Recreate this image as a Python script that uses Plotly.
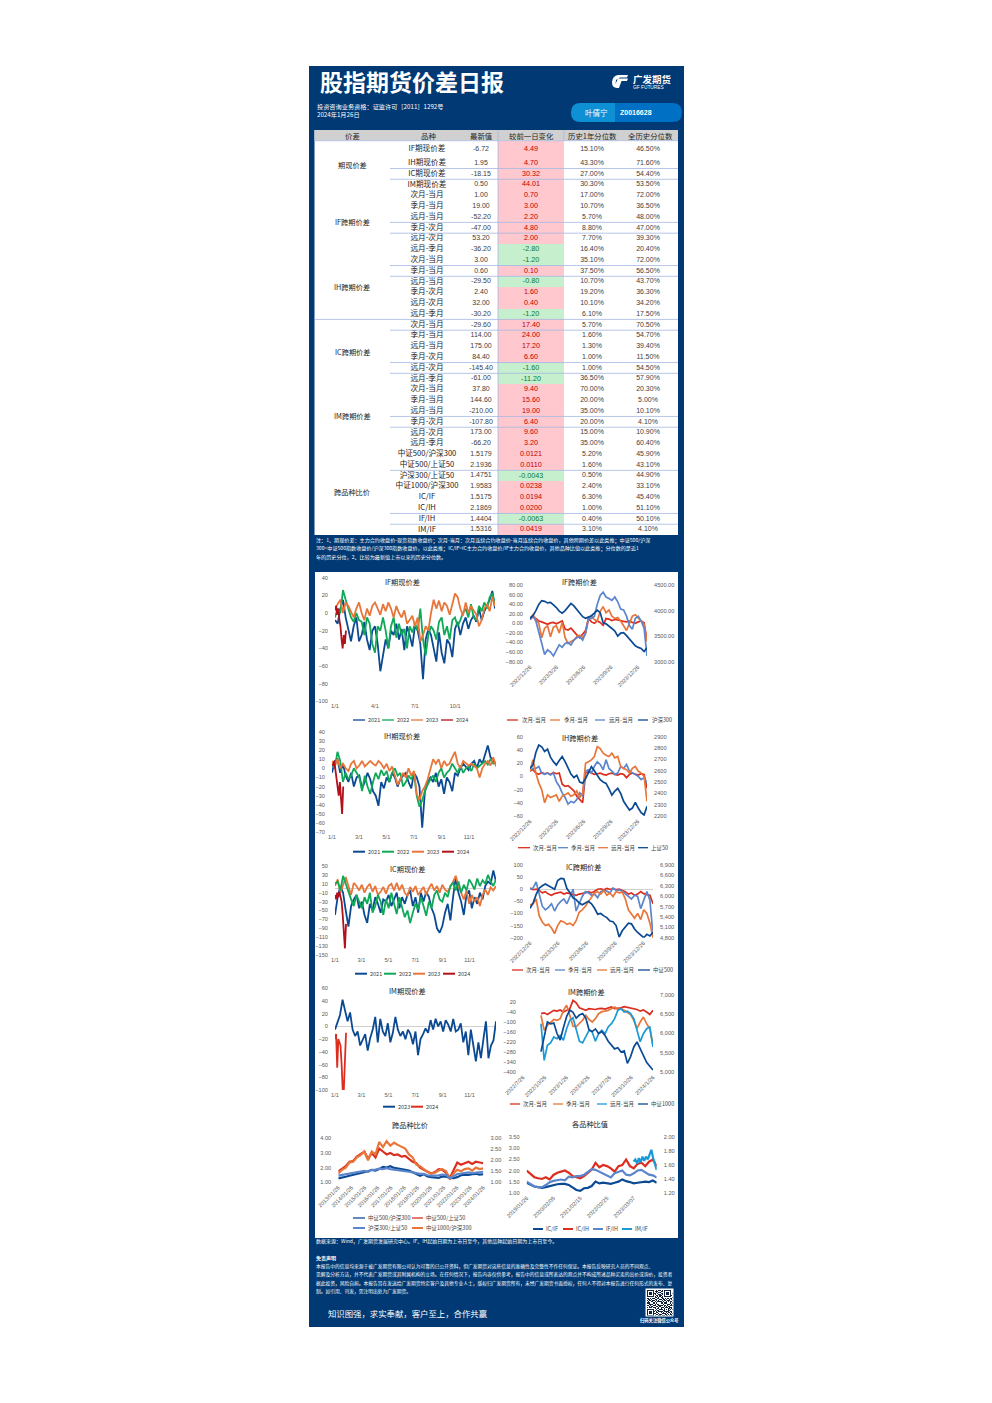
import pandas as pd
import plotly.graph_objects as go

W, H = 992, 1403
CJK = "Noto Sans CJK SC"
LAT = "Liberation Sans"
NAVY = "#003973"
C_DB, C_GR, C_OR, C_DR = "#0b4a93", "#0fa958", "#e8763a", "#b3101a"
C_RD, C_BL, C_CY = "#dc2e1f", "#5b85cc", "#1b9ad8"
LW_YEAR, LW_CAL, LW_RATIO = 1.8, 1.7, 2.2

# ---------- table data ----------
table_groups = ["期现价差", "IF跨期价差", "IH跨期价差", "IC跨期价差", "IM跨期价差", "跨品种比价"]
table_headers = ["价差", "品种", "最新值", "较前一日变化", "历史1年分位数", "全历史分位数"]
table_names = ["IF期现价差", "IH期现价差", "IC期现价差", "IM期现价差",
               "次月-当月", "季月-当月", "远月-当月", "季月-次月", "远月-次月", "远月-季月",
               "次月-当月", "季月-当月", "远月-当月", "季月-次月", "远月-次月", "远月-季月",
               "次月-当月", "季月-当月", "远月-当月", "季月-次月", "远月-次月", "远月-季月",
               "次月-当月", "季月-当月", "远月-当月", "季月-次月", "远月-次月", "远月-季月",
               "中证500/沪深300", "中证500/上证50", "沪深300/上证50", "中证1000/沪深300",
               "IC/IF", "IC/IH", "IF/IH", "IM/IF"]
table_latest = ["-6.72", "1.95", "-18.15", "0.50", "1.00", "19.00", "-52.20", "-47.00", "53.20", "-36.20",
                "3.00", "0.60", "-29.50", "2.40", "32.00", "-30.20", "-29.60", "114.00", "175.00", "84.40",
                "-145.40", "-61.00", "37.80", "144.60", "-210.00", "-107.80", "173.00", "-66.20",
                "1.5179", "2.1936", "1.4751", "1.9583", "1.5175", "2.1869", "1.4404", "1.5316"]
table_change = ["4.49", "4.70", "30.32", "44.01", "0.70", "3.00", "2.20", "4.80", "2.00", "-2.80",
                "-1.20", "0.10", "-0.80", "1.60", "0.40", "-1.20", "17.40", "24.00", "17.20", "6.60",
                "-1.60", "-11.20", "9.40", "15.60", "19.00", "6.40", "9.60", "3.20",
                "0.0121", "0.0110", "-0.0043", "0.0238", "0.0194", "0.0200", "-0.0063", "0.0419"]
table_hist1y = ["15.10%", "43.30%", "27.00%", "30.30%", "17.00%", "10.70%", "5.70%", "8.80%", "7.70%", "16.40%",
                "35.10%", "37.50%", "10.70%", "19.20%", "10.10%", "6.10%", "5.70%", "1.60%", "1.30%", "1.00%",
                "1.00%", "36.50%", "70.00%", "20.00%", "35.00%", "20.00%", "15.00%", "35.00%",
                "5.20%", "1.60%", "0.50%", "2.40%", "6.30%", "1.00%", "0.40%", "3.10%"]
table_histall = ["46.50%", "71.60%", "54.40%", "53.50%", "72.00%", "36.50%", "48.00%", "47.00%", "39.30%", "20.40%",
                 "72.00%", "56.50%", "43.70%", "36.30%", "34.20%", "17.50%", "70.50%", "54.70%", "39.40%", "11.50%",
                 "54.50%", "57.90%", "20.30%", "5.00%", "10.10%", "4.10%", "10.90%", "60.40%",
                 "45.90%", "43.10%", "44.90%", "33.10%", "45.40%", "51.10%", "50.10%", "4.10%"]

# ---------- chart data ----------
if_basis_2021 = [-8,-12,5,15,-5,-20,-32,-15,-5,-32,-25,-10,-30,-42,-20,-15,-35,-66,-48,-30,-40,-20,-25,-12,-30,-18,-42,-15,-25,-38,-14,-20,-35,-75,-30,-18,-25,-40,-55,-22,-45,-57,-30,-35,-50,-18,-10,-25,-12,-5,-18,-8,-3,-10,5,-8,2,8,15,25,5]
if_basis_2022 = [-5,5,0,26,15,5,-5,-10,0,-8,-10,-25,-5,-12,-35,-45,-15,-20,-5,-20,-40,-15,-5,-28,-12,-25,-18,-40,-15,-22,-12,-20,5,-30,-48,-25,-15,-20,-30,-10,-5,-25,-15,-30,-8,-5,-15,-8,0,5,-5,10,-5,-8,8,2,12,5,18,22,10]
if_basis_2023 = [5,10,15,0,12,8,2,-5,5,12,0,-8,5,-3,8,12,5,-2,10,2,12,5,-5,8,0,-5,3,-12,-8,-3,-15,-5,-32,-25,-15,-20,0,15,5,14,2,12,8,-2,10,22,18,5,-3,12,0,8,3,-2,-15,-8,5,10,2,18,8]
if_basis_2024 = [3,8,-2,5,-8,-15,-30,-40,-25,-35,-20]

if_cal_near = [8,14,10,5,3,0,-2,1,2,-1,2,5,-12,-14,-10,-18,-24,-30,-22,-15,10,3,0,5,2,-4,10,9,6,8,7,5,4,3,5,2,0,3,5,1,-35]
if_cal_season = [10,18,8,0,-30,-10,-5,-28,-8,-5,-20,2,-30,-42,-38,-35,-28,-25,-30,-22,10,15,8,5,25,35,22,28,15,10,12,5,-5,-15,0,15,18,12,5,-2,-38]
if_cal_far = [8,15,5,-20,-45,-65,-55,-60,-68,-55,-45,-50,-42,-40,-45,-35,-30,-28,-35,-20,12,10,15,40,58,65,55,52,48,55,45,30,28,15,-5,-12,10,15,5,-10,-68]
if_index = [3850,3900,4000,4120,4195,4180,4150,4160,4110,4060,3990,3950,4000,4060,4140,4090,4020,3950,3880,3850,3880,3900,3950,4010,3960,3760,3740,3700,3650,3600,3500,3560,3570,3510,3450,3370,3310,3280,3260,3200,3270]

ih_basis_2021 = [-5,8,10,-5,5,-8,-15,-5,-20,-10,-8,-22,-15,-5,-12,-25,-30,-41,-15,-22,-10,-15,-5,-10,-20,-12,-8,-5,-15,-22,-5,-10,-20,-65,-25,-15,-10,-15,-5,-20,-12,-28,-10,-15,-25,-5,-8,0,5,2,-2,5,8,0,10,5,15,25,12,8,5]
ih_basis_2022 = [5,0,18,8,-15,-5,-12,-8,0,-5,-10,-25,-8,-20,-28,-15,-5,-12,-2,-8,-3,-15,-5,0,-8,-5,-20,-15,-8,-12,-5,-30,-42,-35,-25,-18,-12,-8,-15,-5,0,-10,-5,-2,5,0,-5,3,-5,0,2,-3,5,0,3,5,8,4,10,5,6]
ih_basis_2023 = [8,3,10,0,5,0,-3,5,8,0,3,8,2,5,8,5,3,8,5,0,5,-3,2,-8,-18,-12,-5,-10,0,-8,-3,-28,-35,-25,-20,-12,0,10,5,10,0,8,3,5,12,18,5,0,8,5,3,5,2,0,-10,0,5,8,3,12,2]
ih_basis_2024 = [5,3,8,-2,-10,-20,-30,-15,-35,-50,-20]

ih_cal_near = [8,10,5,3,6,4,5,3,6,4,5,-12,-15,-14,-18,-22,-30,-35,-40,5,7,5,3,4,5,3,2,4,5,3,2,4,3,-2,3,5,4,2,4,3,-18]
ih_cal_season = [8,12,12,15,5,3,5,2,5,-8,-15,-25,-32,-42,-38,-40,-35,-25,-30,8,10,5,15,22,18,10,25,12,8,3,5,15,12,18,8,5,2,0,-5,-2,-10]
ih_cal_far = [8,25,5,-10,-20,-40,-28,-32,-30,-28,-38,-30,-28,-25,-30,-28,-22,-32,-25,20,22,25,30,45,42,35,32,30,35,28,30,15,12,10,5,12,15,8,5,0,-38]
ih_index = [2620,2650,2760,2826,2810,2770,2790,2720,2680,2650,2690,2724,2680,2620,2570,2540,2560,2500,2490,2530,2590,2635,2600,2560,2520,2500,2488,2440,2385,2420,2444,2400,2330,2290,2253,2270,2320,2270,2230,2209,2285]

ic_basis_2021 = [-60,-20,5,-10,-50,-86,-40,-25,-15,-45,-30,-60,-78,-35,-50,-20,-35,-55,-25,-30,-15,-40,-25,-10,-45,-20,-35,-15,-5,-40,-20,-55,-10,-30,-8,-20,-45,-60,-90,-100,-85,-55,-35,-72,-20,25,-10,-30,-60,-15,-5,-45,-20,-35,-10,-25,5,15,10,40,15]
ic_basis_2022 = [10,15,-5,28,10,-10,-25,-40,-15,-30,-45,-20,-35,-10,-55,-40,-15,-30,-60,-25,-45,-10,-35,-58,-20,-40,-65,-50,-78,-55,-35,-48,-20,-40,-62,-30,-45,-15,-5,-25,-30,-10,-20,5,12,-5,15,-10,8,-5,20,10,-3,22,5,18,10,30,15,5,20]
ic_basis_2023 = [5,20,-10,10,25,5,-15,12,5,-5,8,-10,3,10,-8,5,-15,-8,3,-12,5,10,-5,12,-5,8,-10,-18,3,-8,5,-15,-5,3,-15,0,10,-5,5,-10,8,-3,-8,2,15,28,5,-10,-25,-5,-35,-15,-30,-20,-40,-15,-3,-15,2,-5,5]
ic_basis_2024 = [-15,-25,-10,-20,-8,-18,-30,-60,-100,-135,-80]

ic_cal_near = [5,-2,0,-5,-15,-10,-20,-25,-18,-15,-12,-20,-15,-18,-22,-25,-20,-18,-15,-10,-15,-8,0,2,-2,3,0,2,-1,0,-5,-10,-20,-15,-25,-20,-10,-18,-22,-25,-60]
ic_cal_season = [0,5,30,-20,-70,-85,-75,-60,-90,-65,-50,-40,-60,-30,0,-90,-60,-30,-10,-15,-25,-20,-35,-10,-5,-8,-15,5,-5,-3,-8,-20,-30,-40,-25,-30,-80,-40,-10,-45,-190]
ic_cal_far = [-65,-60,-40,-110,-135,-150,-145,-160,-183,-150,-130,-135,-145,-140,-150,-130,-95,-85,-70,-50,-30,-15,-10,-20,-5,-25,-15,-30,-10,-15,-12,-40,-85,-105,-120,-100,-125,-85,-100,-140,-200]
ic_index = [5650,5800,6050,6230,6300,6350,6300,6250,6200,6450,6515,6500,6220,6100,5950,5900,5800,5750,5800,5850,5780,5650,5480,5500,5430,5380,5280,5260,5150,4820,5000,5100,5220,5200,5050,4950,4880,4800,4900,4850,4960]

im_basis_2023 = [-5,5,18,42,25,8,22,-5,-15,-8,-30,-20,-12,-38,-18,-5,15,-25,12,-8,-15,5,-25,-10,15,-5,-15,-8,-20,-5,-12,-28,-8,-45,-20,-12,-3,-10,10,-5,12,0,8,-8,10,3,-8,12,-8,-5,5,-25,-8,-45,-5,-30,-55,-25,-50,-20,8,-50,-30,-22,8]
im_basis_2024 = [-20,-12,-65,-20,-25,-30,-60,-100,-100,-45,-10]

im_cal_near = [-50,-45,-55,-40,-30,-35,-28,-40,-30,-20,30,15,-15,-25,-30,-20,-22,-25,-20,-18,-22,-15,-10,-20,-18,-15,-8,-12,-15,-20,-25,-35,-28,-40,-55,-30]
im_cal_season = [-60,-150,-120,-100,-85,-90,-80,-30,0,-60,-125,-128,-110,-90,-60,-85,-100,-80,-50,-38,-35,-30,-20,-10,-25,-20,-30,-40,-55,-90,-138,-100,-70,-110,-140,-238]
im_cal_far = [-110,-330,-240,-225,-190,-200,-180,-210,-140,-90,-75,-150,-215,-225,-190,-150,-160,-215,-170,-150,-170,-130,-110,-80,-30,-20,-40,-35,-50,-80,-150,-218,-170,-140,-130,-250]
im_index = [5530,5950,6300,6250,6270,6000,5830,6150,6440,6610,6550,6400,6480,6520,6400,6100,6050,6120,6000,6050,5950,5800,5700,5600,5630,5520,5550,5225,5400,5650,5780,5600,5400,5250,5150,5050]

ratio_500_300 = [1.27,1.3,1.38,1.45,1.5,1.55,1.6,1.7,1.75,1.85,1.8,1.9,2.05,2.0,2.1,1.98,1.95,1.9,1.85,1.8,1.7,1.6,1.45,1.55,1.4,1.35,1.32,1.3,1.4,1.38,1.3,1.28,1.35,1.48,1.52,1.5,1.55,1.58,1.52,1.55]
ratio_500_50 = [1.75,1.95,2.1,2.4,2.45,2.75,2.9,3.1,2.6,3.0,2.7,3.3,3.1,2.9,3.0,2.85,2.9,2.75,2.8,2.6,2.4,2.3,2.0,1.85,1.75,1.6,1.7,1.9,1.85,1.65,1.3,1.8,2.35,2.2,2.3,2.4,2.25,2.4,2.35,2.3]
ratio_300_50 = [1.3,1.33,1.38,1.42,1.42,1.48,1.48,1.52,1.48,1.56,1.58,1.62,1.6,1.64,1.6,1.58,1.55,1.55,1.5,1.48,1.45,1.4,1.38,1.38,1.32,1.3,1.3,1.32,1.35,1.33,1.18,1.3,1.38,1.4,1.42,1.45,1.42,1.45,1.46,1.48]
ratio_1000_300 = [1.6,1.85,2.0,2.35,2.4,2.7,2.85,3.1,2.5,3.1,2.9,3.75,3.4,3.8,3.5,3.7,3.55,3.4,3.3,2.9,2.7,2.2,2.1,1.9,1.7,1.6,1.65,1.8,1.9,1.75,1.2,1.6,1.85,1.75,1.9,1.95,1.8,2.0,1.9,1.95]

pair_ic_if = [1.45,1.35,1.28,1.25,1.22,1.25,1.3,1.36,1.38,1.4,1.4,1.35,1.25,1.12,1.08,1.2,1.22,1.3,1.5,1.42,1.45,1.42,1.4,1.45,1.5,1.6,1.52,1.48,1.42,1.45,1.48,1.5,1.48,1.55,1.45]
pair_ic_ih = [2.0,1.85,1.7,1.65,1.62,1.7,1.6,1.8,1.9,1.95,2.0,1.9,1.75,1.7,1.65,1.75,1.9,2.05,2.35,2.15,2.25,2.2,2.1,1.95,2.2,2.25,2.5,2.2,2.1,2.3,2.35,2.2,2.4,2.5,2.2]
pair_if_ih = [1.36,1.32,1.29,1.28,1.28,1.31,1.35,1.37,1.38,1.39,1.38,1.43,1.42,1.44,1.44,1.46,1.5,1.54,1.53,1.5,1.48,1.45,1.42,1.48,1.5,1.52,1.46,1.45,1.48,1.52,1.53,1.5,1.46,1.45,1.42]
pair_im_if = [1.65,1.68,1.62,1.70,1.64,1.72,1.66,1.72,1.68,1.75,1.82,1.7,1.62,1.53]

qr_rows = ["1111111001011010111111100", "1000001011100110100000100", "1011101001011000101110100",
           "1011101110100110101110101", "1011101010011010101110100", "1000001001101100100000110",
           "1111111010101010111111100", "0000000011010110000000001", "1101011100110011010110110",
           "0110100011001101101001010", "1011011101010010110111001", "0100110010111101001010110",
           "1110001101000110111000101", "0011110010110001000111010", "1101001110011110110100111",
           "0010110001101000101011000", "1011101110010111011101110", "0000000010110100100011010",
           "1111111001001110101010101", "1000001010110001100011000", "1011101101011110111110110",
           "1011101001100101001011010", "1011101110010011110100101", "1000001001101100011010110",
           "1111111010011011101101011"]

# ---------- page helpers ----------
def fx(x): return x / W
def fy(y): return 1 - y / H

shapes, annotations = [], []

def rect(x0, y0, x1, y1, color, layer="below"):
    shapes.append(dict(type="rect", xref="paper", yref="paper", x0=fx(x0), x1=fx(x1), y0=fy(y0), y1=fy(y1),
                       fillcolor=color, line=dict(width=0), layer=layer))

def hline(x0, y0, x1, y1, color, width=1, layer="above"):
    shapes.append(dict(type="line", xref="paper", yref="paper", x0=fx(x0), x1=fx(x1), y0=fy(y0), y1=fy(y1),
                       line=dict(color=color, width=width), layer=layer))

def path(points, color):
    out = []
    for cmd, *nums in points:
        xy = [fx(n) if i % 2 == 0 else fy(n) for i, n in enumerate(nums)]
        out.append(cmd + " " + " ".join(f"{v:.5f}" for v in xy))
    shapes.append(dict(type="path", xref="paper", yref="paper", path=" ".join(out) + " Z",
                       fillcolor=color, line=dict(width=0), layer="below"))

def text(x, y, s, size, color="#ffffff", anchor="left", font=CJK):
    annotations.append(dict(x=fx(x), y=fy(y), xref="paper", yref="paper", text=s, showarrow=False,
                            xanchor=anchor, yanchor="middle", align=anchor, borderpad=0,
                            font=dict(size=size, color=color, family=font)))

fig = go.Figure()
layout_axes = {}
axis_no = [1]

def new_x(x0, x1, rng, tickvals, ticktext, angle=0, size=5.6):
    n = axis_no[0]; axis_no[0] += 1
    layout_axes[f"xaxis{n}"] = dict(domain=[fx(x0), fx(x1)], range=rng, type="date", tickvals=tickvals, ticktext=ticktext,
                                    tickangle=angle, showgrid=False, zeroline=False, showline=False, ticks="", anchor=f"y{n}",
                                    automargin=False, tickfont=dict(size=size, color="#595959", family=LAT), fixedrange=True)
    return n

def new_y(n, ytop, ybot, rng, tickvals, fmt, side="left", zero=False, pad=4):
    layout_axes[f"yaxis{n}"] = dict(domain=[fy(ybot), fy(ytop)], range=rng, tickvals=tickvals, tickformat=fmt, showgrid=False, side=side,
                                    zeroline=zero, zerolinecolor="#d0d0d0", zerolinewidth=1, showline=False, ticks="outside", ticklen=pad,
                                    automargin=False, anchor=f"x{n}", tickcolor="rgba(0,0,0,0)",
                                    tickfont=dict(size=5.6, color="#595959", family=LAT), fixedrange=True)

def line(xa, ya, start, end, vals, color, name, width=LW_YEAR):
    xs = pd.date_range(start, end, periods=len(vals))
    fig.add_trace(go.Scatter(x=xs, y=vals, mode="lines", name=name, xaxis=f"x{xa}", yaxis=f"y{ya}",
                             line=dict(color=color, width=width, shape="linear"), hoverinfo="skip"))

def legend(y, items, width=1.3):
    for x0, x1, tx, color, label in items:
        hline(x0, y, x1, y, color, width)
        text(tx, y, label, 5.5, "#404040")

def year_chart(x0, x1, ytop, ybot, rng, tickvals, dates, labels, series, zero=False):
    n = new_x(x0, x1, ["2000-01-01", "2000-12-31"], dates, labels)
    new_y(n, ytop, ybot, rng, tickvals, "d", zero=zero, pad=5)
    for vals, color, name, end in series:
        line(n, n, "2000-01-01", end, vals, color, name)

# ---------- page chrome ----------
rect(309, 66, 684, 1327, NAVY)
rect(314.5, 130, 678, 535, "#ffffff")
rect(314.5, 130, 678, 140.5, "#d0d0d0")
rect(315, 572, 678, 1238, "#ffffff")
text(318.5, 81.5, "<b>股指期货价差日报</b>", 23)
text(632, 79.5, "<b>广发期货</b>", 9.5)
text(632, 87, "GF FUTURES", 4.8, font=LAT)
path([("M", 628, 75), ("L", 618, 75), ("Q", 612.5, 76, 612, 82), ("Q", 612, 88, 617, 88), ("L", 619, 88), ("L", 621.5, 81),
      ("L", 627, 81), ("L", 628, 78.5), ("L", 618, 78.5), ("L", 615.5, 84), ("L", 616, 80), ("L", 620, 77.5), ("L", 627, 77.5)], "#ffffff")
text(316, 106, "投资咨询业务资格：证监许可［2011］1292号", 6.2)
text(316, 115, "2024年1月26日", 6.2)
path([("M", 615, 103), ("L", 580.5, 103), ("Q", 571, 103, 571, 112.5), ("Q", 571, 122, 580.5, 122), ("L", 615, 122)], "#0e90d5")
path([("M", 615, 103), ("L", 672.5, 103), ("Q", 682, 103, 682, 112.5), ("Q", 682, 122, 672.5, 122), ("L", 615, 122)], "#0070c4")
text(596, 112.5, "叶倩宁", 7.5, anchor="center")
text(619, 112.5, "<b>Z0016628</b>", 7, font=LAT)

note_lines = ["注：1、期现价差：主力合约收盘价-现货指数收盘价；次月-当月：次月连续合约收盘价-当月连续合约收盘价，其他跨期价差以此类推；中证500/沪深",
              "300=中证500指数收盘价/沪深300指数收盘价，以此类推；IC/IF=IC主力合约收盘价/IF主力合约收盘价，其他品种比值以此类推；分位数的是近1",
              "年的历史分位，2、比较为最新值上市以来的历史分位数。"]
for y, s in zip([540, 548, 557], note_lines):
    text(315, y, s, 5.1)

text(315, 1241, "数据来源：Wind，广发期货发展研究中心。IF、IH起始日期为上市日至今，其他品种起始日期为上市日至今。", 5)
text(315, 1258, "<b>免责声明</b>", 5)
disc = ["本报告中的信息均来源于被广发期货有限公司认为可靠的已公开资料，但广发期货对这些信息的准确性及完整性不作任何保证。本报告反映研究人员的不同观点、",
        "见解及分析方法，并不代表广发期货或其附属机构的立场。在任何情况下，报告内容仅供参考，报告中的信息或所表达的观点并不构成所述品种买卖的出价或询价，投资者",
        "据此投资，风险自担。本报告旨在发送给广发期货特定客户及其他专业人士，版权归广发期货所有，未经广发期货书面授权，任何人不得对本报告进行任何形式的发布、复",
        "制。如引用、刊发，需注明出处为广发期货。"]
for y, s in zip([1266, 1274, 1283, 1291], disc):
    text(315, y, s, 4.75)
text(327, 1313, "知识图强，求实奉献，客户至上，合作共赢", 8.4)
text(659.5, 1320, "<b>扫码关注微信公众号</b>", 4.3, anchor="center")
rect(645.5, 1288.5, 673.5, 1316.5, "#ffffff")

# ---------- table ----------
row_edges = [140.7, 157.7] + [168.5 + 10.78 * i for i in range(35)]
row_centers = [(a + b) / 2 for a, b in zip(row_edges[:-1], row_edges[1:])]
row_heights = [b - a for a, b in zip(row_edges[:-1], row_edges[1:])]
bar_centers = list(row_centers)
row_centers[0] = 149.3
tn = new_x(315, 678, ["2000-01-01", "2000-01-02"], [], [])
layout_axes[f"xaxis{tn}"].update(type="linear", range=[315, 678], visible=False)
new_y(tn, 130, 535, [535, 130], [], "d")
layout_axes[f"yaxis{tn}"].update(visible=False)
is_up = [not c.startswith("-") for c in table_change]
fig.add_trace(go.Bar(x=[66] * len(table_change), base=498, y=bar_centers,
                     width=row_heights, orientation="h", xaxis=f"x{tn}", yaxis=f"y{tn}", hoverinfo="skip",
                     marker=dict(color=["#ffc7ce" if u else "#c6efce" for u in is_up], line=dict(width=0))))

def table_col(x, texts, color, size, font):
    fig.add_trace(go.Scatter(x=[x] * len(texts), y=row_centers, text=texts, mode="text", textposition="middle center",
                             xaxis=f"x{tn}", yaxis=f"y{tn}", hoverinfo="skip",
                             textfont=dict(size=size, color=color, family=font)))

table_col(427, table_names, "#1a1a1a", 7.6, CJK)
table_col(481, table_latest, "#404040", 7, LAT)
table_col(531, table_change, ["#c00000" if u else "#087a2c" for u in is_up], 7.2, LAT)
table_col(592, table_hist1y, "#404040", 7, LAT)
table_col(648, table_histall, "#404040", 7, LAT)

for x, s in zip([352, 428, 481, 531, 592, 650], table_headers):
    text(x, 135.3, s, 7.4, "#262626", "center")
for y, s in zip([165, 222, 287, 352, 416, 492], table_groups):
    text(352, y, s, 7.2, "#1a1a1a", "center")
for k in [2, 3, 7, 8, 11, 12, 17, 20, 21, 25, 26, 30, 34, 35]:
    y = row_edges[k]
    hline(390, y, 678, y, "#a5b8e2", 0.8)
hline(315, row_edges[16], 678, row_edges[16], "#a5b8e2", 0.8)
hline(315, 140.7, 678, 140.7, "#a5b8e2", 0.8)
hline(498, 130, 498, 535, "#a5b8e2", 0.8)
hline(564, 130, 564, 140.7, "#a5b8e2", 0.8)

# ---------- left column: basis by year ----------
Q_D = ["2000-01-01", "2000-04-01", "2000-07-01", "2000-10-01"]
Q_L = ["1/1", "4/1", "7/1", "10/1"]
B_D = ["2000-01-01", "2000-03-01", "2000-05-01", "2000-07-01", "2000-09-01", "2000-11-01"]
B_L = ["1/1", "3/1", "5/1", "7/1", "9/1", "11/1"]
END, E24 = "2000-12-31", "2000-01-26"

year_chart(335, 495, 577.7, 701.3, [-100, 40], list(range(-100, 41, 20)), Q_D, Q_L,
           [(if_basis_2021, C_DB, "2021", END), (if_basis_2022, C_GR, "2022", END),
            (if_basis_2023, C_OR, "2023", END), (if_basis_2024, C_DR, "2024", E24)])
text(402.7, 581.7, "IF期现价差", 7.2, "#1a1a1a", "center")
legend(720, [(353, 365, 367, C_DB, "2021"), (382, 394, 396, C_GR, "2022"), (411, 423, 425, C_OR, "2023"), (441, 453, 455, C_DR, "2024")])

year_chart(332, 496, 731.7, 832.3, [-70, 40], list(range(-70, 41, 10)), B_D, B_L,
           [(ih_basis_2021, C_DB, "2021", END), (ih_basis_2022, C_GR, "2022", END),
            (ih_basis_2023, C_OR, "2023", END), (ih_basis_2024, C_DR, "2024", E24)])
text(401.7, 736, "IH期现价差", 7.2, "#1a1a1a", "center")
legend(851.7, [(353, 365, 367, C_DB, "2021"), (382, 394, 396, C_GR, "2022"), (412, 424, 426, C_OR, "2023"), (442, 454, 456, C_DR, "2024")], 2)

year_chart(335, 496, 866, 955, [-150, 50], list(range(-150, 51, 20)), B_D, B_L,
           [(ic_basis_2021, C_DB, "2021", END), (ic_basis_2023, C_OR, "2023", END),
            (ic_basis_2022, C_GR, "2022", END), (ic_basis_2024, C_DR, "2024", E24)], zero=True)
text(407, 869, "IC期现价差", 7.2, "#1a1a1a", "center")
legend(973.7, [(355, 367, 369, C_DB, "2021"), (384, 396, 398, C_GR, "2022"), (413, 425, 427, C_OR, "2023"), (443, 455, 457, C_DR, "2024")], 2)

year_chart(335, 496, 988.3, 1090, [-100, 60], list(range(-100, 61, 20)), B_D, B_L,
           [(im_basis_2023, C_DB, "2023", END), (im_basis_2024, C_RD, "2024", E24)], zero=True)
text(407, 990.7, "IM期现价差", 7.2, "#1a1a1a", "center")
legend(1106.7, [(383, 395, 397, C_DB, "2023"), (411, 423, 425, C_RD, "2024")], 2)

# ---------- right column: calendar spreads ----------
def cal_chart(x0, x1, ytop, ybot, lrng, lticks, lfmt, rrng, rticks, rfmt, dates, labels, series, rseries, start, end, zero=False):
    n = new_x(x0, x1, [start, end], dates, labels, angle=-45)
    new_y(n, ytop, ybot, lrng, lticks, lfmt, zero=zero, pad=5)
    r = axis_no[0]; axis_no[0] += 1
    layout_axes[f"xaxis{r}"] = dict(domain=[fx(x0), fx(x1)], range=[start, end], type="date", visible=False, anchor=f"y{r}", fixedrange=True, automargin=False)
    new_y(r, ytop, ybot, rrng, rticks, rfmt, side="right", pad=5)
    for vals, color, name, width in series:
        line(n, n, start, end, vals, color, name, width)
    for vals, color, name, width in rseries:
        line(r, r, start, end, vals, color, name, width)

D_Q = ["2022-12-26", "2023-03-26", "2023-06-26", "2023-09-26", "2023-12-26"]
L_Q = ["2022/12/26", "2023/3/26", "2023/6/26", "2023/9/26", "2023/12/26"]
START, LAST = "2022-12-26", "2024-01-26"

cal_chart(530, 647, 585, 661.7, [-80, 80], list(range(-80, 81, 20)), ".2f", [3000, 4500], [3000, 3500, 4000, 4500], ".2f",
          D_Q, L_Q,
          [(if_cal_near, C_RD, "次月-当月", LW_CAL), (if_cal_season, C_OR, "季月-当月", LW_CAL), (if_cal_far, C_BL, "远月-当月", LW_CAL)],
          [(if_index, C_DB, "沪深300", LW_CAL)], START, LAST)
text(579.3, 582, "IF跨期价差", 7.2, "#1a1a1a", "center")
legend(720, [(507, 518, 521, C_RD, "次月-当月"), (550, 560, 563, C_OR, "季月-当月"), (595, 605, 608, C_BL, "远月-当月"), (638, 648, 651, C_DB, "沪深300")])

cal_chart(530, 647, 736.7, 816, [-60, 60], list(range(-60, 61, 20)), "d", [2200, 2900], list(range(2200, 2901, 100)), "d",
          D_Q, L_Q,
          [(ih_cal_near, C_RD, "次月-当月", LW_CAL), (ih_cal_season, C_BL, "季月-当月", LW_CAL), (ih_cal_far, C_OR, "远月-当月", LW_CAL)],
          [(ih_index, C_DB, "上证50", LW_CAL)], START, LAST)
text(580, 738, "IH跨期价差", 7.2, "#1a1a1a", "center")
legend(847.7, [(518, 530, 532, C_RD, "次月-当月"), (558, 568, 570, C_BL, "季月-当月"), (598, 608, 610, C_OR, "远月-当月"), (638, 648, 650, C_DB, "上证50")])

cal_chart(530, 653, 865, 937.7, [-200, 100], list(range(-200, 101, 50)), "d", [4800, 6900], list(range(4800, 6901, 300)), ",d",
          D_Q, L_Q,
          [(ic_cal_near, C_RD, "次月-当月", LW_CAL), (ic_cal_season, C_BL, "季月-当月", LW_CAL), (ic_cal_far, C_OR, "远月-当月", LW_CAL)],
          [(ic_index, C_DB, "中证500", LW_CAL)], START, LAST, zero=True)
text(583, 867, "IC跨期价差", 7.2, "#1a1a1a", "center")
legend(970, [(512, 523, 525, C_RD, "次月-当月"), (555, 565, 567, C_BL, "季月-当月"), (597, 607, 609, C_OR, "远月-当月"), (638, 650, 652, C_DB, "中证500")])

im_start = "2022-10-10"
n8 = new_x(523, 653, ["2022-07-26", "2024-01-26"],
           ["2022-07-26", "2022-10-26", "2023-01-26", "2023-04-26", "2023-07-26", "2023-10-26", "2024-01-26"],
           ["2022/7/26", "2022/10/26", "2023/1/26", "2023/4/26", "2023/7/26", "2023/10/26", "2024/1/26"], angle=-45)
new_y(n8, 995, 1072, [-400, 62], list(range(-400, 21, 60)), "d", pad=5)
r8 = axis_no[0]; axis_no[0] += 1
layout_axes[f"xaxis{r8}"] = dict(domain=[fx(523), fx(653)], range=["2022-07-26", "2024-01-26"], type="date", visible=False, anchor=f"y{r8}", fixedrange=True, automargin=False)
new_y(r8, 995, 1072, [5000, 7000], [5000, 5500, 6000, 6500, 7000], ",d", side="right", pad=5)
for vals, color, name in [(im_cal_near, C_RD, "次月-当月"), (im_cal_season, C_OR, "季月-当月"), (im_cal_far, C_CY, "远月-当月")]:
    line(n8, n8, im_start, "2024-01-26", vals, color, name, LW_CAL)
line(r8, r8, im_start, "2024-01-26", im_index, C_DB, "中证1000", LW_CAL)
text(586, 991.7, "IM跨期价差", 7.2, "#1a1a1a", "center")
legend(1104, [(510, 520, 522, C_RD, "次月-当月"), (553, 563, 565, C_OR, "季月-当月"), (597, 607, 609, C_CY, "远月-当月"), (638, 648, 650, C_DB, "中证1000")])

# ---------- ratios ----------
ydates = [f"{y}-01-26" for y in range(2013, 2025)]
ylabels = [d.replace("-", "/") for d in ydates]
cal_chart(338.3, 483.3, 1138.3, 1182.3, [1, 4], [1, 2, 3, 4], ".2f", [1, 3], [1, 1.5, 2, 2.5, 3], ".2f",
          ydates, ylabels,
          [(ratio_500_300, C_DB, "中证500/沪深300", LW_RATIO), (ratio_500_50, C_RD, "中证500/上证50", LW_RATIO), (ratio_1000_300, C_OR, "中证1000/沪深300", LW_RATIO)],
          [(ratio_300_50, C_BL, "沪深300/上证50", LW_RATIO)], "2013-01-26", "2024-01-26")
text(410, 1125, "跨品种比价", 7.2, "#1a1a1a", "center")
legend(1218, [(353, 365, 367, C_DB, "中证500/沪深300"), (412, 423, 425, C_RD, "中证500/上证50")])
legend(1228, [(353, 365, 367, C_BL, "沪深300/上证50"), (412, 423, 425, C_OR, "中证1000/沪深300")], 2)

pd_dates = ["2019-01-26", "2020-02-05", "2021-02-15", "2022-02-25", "2023-03-07"]
cal_chart(526.7, 656.7, 1137.3, 1192.7, [1, 3.5], [1, 1.5, 2, 2.5, 3, 3.5], ".2f", [1.2, 2.0], [1.2, 1.4, 1.6, 1.8, 2.0], ".2f",
          pd_dates, [d.replace("-", "/") for d in pd_dates],
          [(pair_ic_if, C_DB, "IC/IF", LW_RATIO), (pair_ic_ih, C_RD, "IC/IH", LW_RATIO)],
          [(pair_if_ih, C_BL, "IF/IH", LW_RATIO)], "2019-01-26", "2024-01-26")
line(axis_no[0] - 1, axis_no[0] - 1, "2023-03-07", "2024-01-26", pair_im_if, C_CY, "IM/IF", LW_RATIO)
text(590, 1124, "各品种比值", 7.2, "#1a1a1a", "center")
legend(1229, [(533, 543, 545, C_DB, "IC/IF"), (563, 573, 575, C_RD, "IC/IH"), (593, 603, 605, C_BL, "IF/IH"), (622, 632, 634, C_CY, "IM/IF")], 2)

# ---------- QR ----------
qn = new_x(647, 672.5, ["2000-01-01", "2000-01-02"], [], [])
layout_axes[f"xaxis{qn}"].update(type="linear", range=[-0.5, 24.5], visible=False)
new_y(qn, 1290, 1315.5, [24.5, -0.5], [], "d")
layout_axes[f"yaxis{qn}"].update(visible=False)
fig.add_trace(go.Heatmap(z=[[int(c) for c in r] for r in qr_rows], xaxis=f"x{qn}", yaxis=f"y{qn}", showscale=False,
                         colorscale=[[0, "#ffffff"], [1, "#12223a"]], zmin=0, zmax=1, hoverinfo="skip"))

fig.update_layout(width=W, height=H, autosize=False, margin=dict(l=0, r=0, t=0, b=0, autoexpand=False), paper_bgcolor="#ffffff",
                  plot_bgcolor="rgba(0,0,0,0)", showlegend=False, shapes=shapes, annotations=annotations,
                  bargap=0, barmode="overlay", hovermode=False, **layout_axes)
fig.write_html("out.html", config=dict(displayModeBar=False, staticPlot=True),
               post_script="document.body.style.margin='0';document.body.style.overflow='hidden';")
